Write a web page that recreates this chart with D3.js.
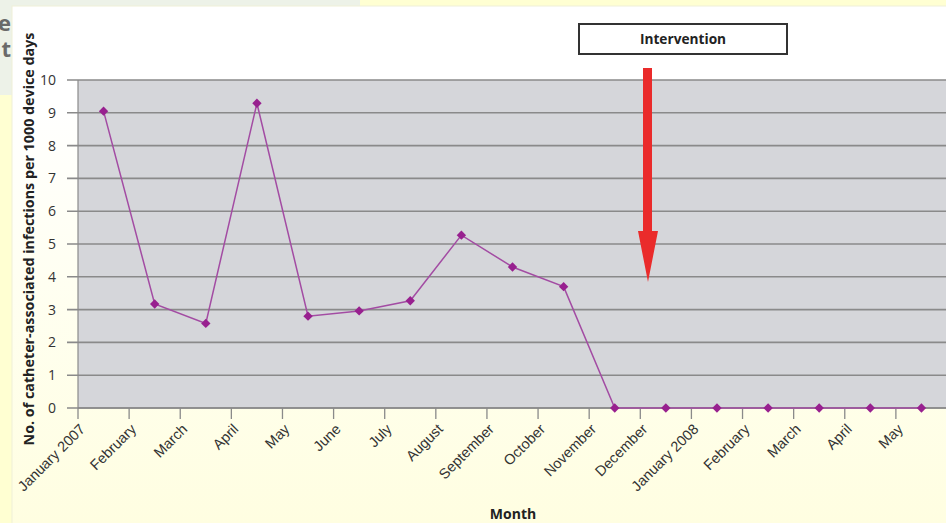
<!DOCTYPE html>
<html>
<head>
<meta charset="utf-8">
<script src="https://cdn.jsdelivr.net/npm/d3@7"></script>
<style>
  body { margin: 0; background: #ffffd2; }
  svg { display: block; font-family: "Open Sans", sans-serif; }
</style>
</head>
<body>
<div id="chart"></div>
<script>
// months on the x axis (two years, so keep them in order by index)
var months = ["January 2007", "February", "March", "April", "May", "June", "July",
  "August", "September", "October", "November", "December", "January 2008",
  "February", "March", "April", "May"];
// infections per 1000 device days
var rates = [9.05, 3.17, 2.58, 9.29, 2.8, 2.96, 3.27, 5.27, 4.3, 3.7,
  0, 0, 0, 0, 0, 0, 0];
var yTicks = [0, 1, 2, 3, 4, 5, 6, 7, 8, 9, 10];
var interventionLabel = "Intervention";

var svgWidth = 946;
var svgHeight = 523;

var margin = { top: 80, right: -1, bottom: 115, left: 78 };
var width = svgWidth - margin.left - margin.right;
var height = svgHeight - margin.top - margin.bottom;

var svg = d3.select("#chart")
  .append("svg")
  .attr("width", svgWidth)
  .attr("height", svgHeight);

// slide background bits
svg.append("rect").attr("x", 0).attr("y", 0).attr("width", 360).attr("height", 95)
  .attr("fill", "#edf2e8");
var grad = svg.append("defs").append("linearGradient")
  .attr("id", "box").attr("x1", 0).attr("y1", 0).attr("x2", 0).attr("y2", 1);
grad.append("stop").attr("offset", "0").attr("stop-color", "#ffffff");
grad.append("stop").attr("offset", "0.18").attr("stop-color", "#ffffff");
grad.append("stop").attr("offset", "0.5").attr("stop-color", "#fffff2");
grad.append("stop").attr("offset", "1").attr("stop-color", "#fffee0");
svg.append("rect").attr("x", 12).attr("y", 6).attr("width", 940).attr("height", 530)
  .attr("fill", "url(#box)").attr("stroke", "#f0f0d8");

// clipped title letters on the slide (one text, two lines)
var slideTitle = svg.append("text")
  .attr("text-anchor", "end")
  .attr("font-size", 22)
  .attr("font-weight", "bold")
  .attr("fill", "#6a6a6a");
slideTitle.append("tspan").attr("x", 11).attr("y", 31).text("e");
slideTitle.append("tspan").attr("x", 11).attr("y", 57).text("t");

var chartGroup = svg.append("g")
  .attr("transform", `translate(${margin.left}, ${margin.top})`);

var xScale = d3.scaleBand()
  .domain(d3.range(months.length))
  .range([0, width])
  .padding(0);

var yScale = d3.scaleLinear()
  .domain([0, 10])
  .range([height, 0]);

// plot area
chartGroup.append("rect")
  .attr("width", width)
  .attr("height", height)
  .attr("fill", "#d5d6da");

// gridlines (stick out to the left like tick marks)
chartGroup.append("g")
  .selectAll("line")
  .data(yTicks)
  .enter()
  .append("line")
  .attr("x1", -11)
  .attr("x2", width)
  .attr("y1", d => yScale(d))
  .attr("y2", d => yScale(d))
  .attr("stroke", "#8a8a8a")
  .attr("stroke-width", 1.6);

// y tick labels
chartGroup.append("g")
  .selectAll("text")
  .data(yTicks)
  .enter()
  .append("text")
  .attr("x", -22)
  .attr("y", d => yScale(d))
  .attr("dy", "0.35em")
  .attr("text-anchor", "end")
  .attr("font-size", 14)
  .attr("fill", "#333")
  .text(d => d);

// y axis line
chartGroup.append("line")
  .attr("x1", 0).attr("x2", 0)
  .attr("y1", 0).attr("y2", height)
  .attr("stroke", "#8a8a8a").attr("stroke-width", 1.2);

// x axis: ticks on band edges, labels hang from each tick
var bottomAxis = d3.axisBottom(xScale)
  .tickSize(0)
  .tickFormat("");
var xAxis = chartGroup.append("g")
  .attr("transform", `translate(0, ${height})`)
  .call(bottomAxis);
xAxis.select(".domain").remove();

var edges = d3.range(months.length + 1);
xAxis.selectAll("line.edge")
  .data(edges)
  .enter()
  .append("line")
  .attr("class", "edge")
  .attr("x1", d => d * xScale.bandwidth())
  .attr("x2", d => d * xScale.bandwidth())
  .attr("y1", 0)
  .attr("y2", 11)
  .attr("stroke", "#8a8a8a")
  .attr("stroke-width", 1.3);

xAxis.selectAll("text.month")
  .data(months)
  .enter()
  .append("text")
  .attr("class", "month")
  .attr("transform", (d, i) => `translate(${xScale(i) + 8}, 22) rotate(-45)`)
  .attr("text-anchor", "end")
  .attr("font-size", 14.5)
  .attr("fill", "#333")
  .text(d => d);

chartGroup.append("line")
  .attr("x1", 0).attr("x2", width)
  .attr("y1", height).attr("y2", height)
  .attr("stroke", "#8a8a8a").attr("stroke-width", 1.6);

// series
var line = d3.line()
  .x((d, i) => xScale(i) + xScale.bandwidth() / 2)
  .y(d => yScale(d));

chartGroup.append("path")
  .datum(rates)
  .attr("d", line)
  .attr("fill", "none")
  .attr("stroke", "#a34ca3")
  .attr("stroke-width", 1.5);

chartGroup.append("g")
  .selectAll("path")
  .data(rates)
  .enter()
  .append("path")
  .attr("d", d3.symbol().type(d3.symbolDiamond2).size(56))
  .attr("transform", (d, i) => `translate(${xScale(i) + xScale.bandwidth() / 2}, ${yScale(d)})`)
  .attr("fill", "#98208f");

// axis titles
svg.append("text")
  .attr("transform", "translate(34, 239) rotate(-90)")
  .attr("text-anchor", "middle")
  .attr("font-size", 14.3)
  .attr("font-weight", "bold")
  .attr("fill", "#222")
  .text("No. of catheter-associated infections per 1000 device days");

svg.append("text")
  .attr("x", 513)
  .attr("y", 519)
  .attr("text-anchor", "middle")
  .attr("font-size", 14)
  .attr("font-weight", "bold")
  .attr("fill", "#222")
  .text("Month");

// intervention box and arrow
svg.append("rect")
  .attr("x", 579).attr("y", 24).attr("width", 208).attr("height", 30)
  .attr("fill", "#fff").attr("stroke", "#333").attr("stroke-width", 2);
svg.append("text")
  .attr("x", 683).attr("y", 39).attr("dy", "0.35em")
  .attr("text-anchor", "middle")
  .attr("font-size", 13.7)
  .attr("font-weight", "bold")
  .attr("fill", "#222")
  .text(interventionLabel);

svg.append("path")
  .attr("d", "M643,68 L652,68 L652,231 L658,231 L648,282 L638,231 L643,231 Z")
  .attr("fill", "#ea2b2b");
</script>
</body>
</html>
